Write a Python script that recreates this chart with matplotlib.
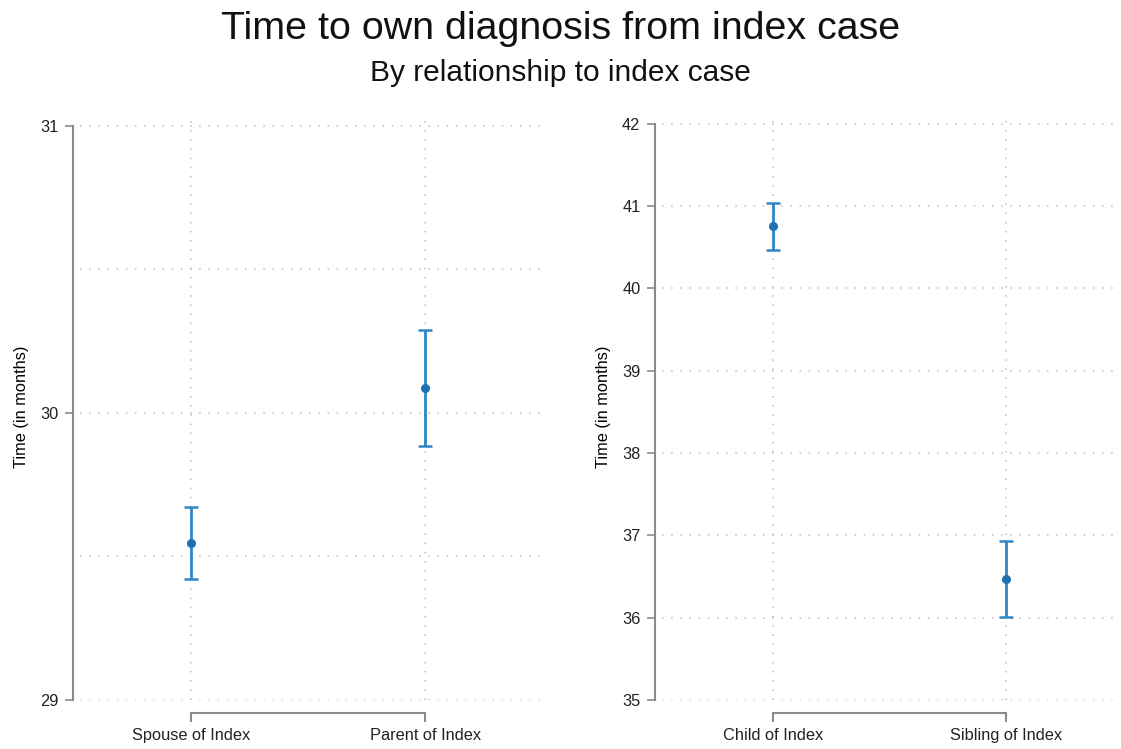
import matplotlib
matplotlib.use("Agg")
import matplotlib.pyplot as plt

plt.rcParams['font.family'] = ['Liberation Sans', 'DejaVu Sans']

# left panel: spouse / parent
left_labels = ['Spouse of Index', 'Parent of Index']
left_mean = [29.547, 30.087]
left_lo = [29.422, 29.885]
left_hi = [29.672, 30.289]

# right panel: child / sibling
right_labels = ['Child of Index', 'Sibling of Index']
right_mean = [40.752, 36.467]
right_lo = [40.467, 36.012]
right_hi = [41.04, 36.935]

line_col = '#2f86c6'
dot_col = '#1f70b2'
spine_col = '#8a8a8a'
grid_col = '#bdbdbd'

fig = plt.figure(figsize=(11.21, 7.49), dpi=100)
ax1 = fig.add_axes([0.0714, 0.0654, 0.4103, 0.7837])
ax2 = fig.add_axes([0.5905, 0.0654, 0.4086, 0.7837])


def panel(ax, labels, mean, lo, hi, ylim, major, minor):
    x = list(range(len(labels)))
    err = [[m - l for m, l in zip(mean, lo)], [h - m for m, h in zip(mean, hi)]]
    ax.errorbar(x, mean, yerr=err, fmt='none', ecolor=line_col, elinewidth=2,
                capsize=5, capthick=1.8, zorder=3)
    ax.plot(x, mean, 'o', color=dot_col, markersize=5.5, zorder=4)
    ax.set_xlim(-0.475, 1.49)
    ax.set_ylim(*ylim)
    ax.set_xticks(x)
    ax.set_xticklabels(labels)
    ax.set_yticks(major)
    ax.set_yticklabels([str(v) for v in major])
    # gridlines at majors and minors (unlabelled)
    for v in list(major) + list(minor):
        ax.axhline(v, color=grid_col, lw=1.1, ls=(0, (1, 5)), zorder=1)
    for xi in x:
        ax.axvline(xi, color=grid_col, lw=1.1, ls=(0, (1, 5)), zorder=1)
    for s in ['top', 'right']:
        ax.spines[s].set_visible(False)
    ax.spines['left'].set_position(('outward', 5))
    ax.spines['left'].set_bounds(major[0], major[-1])
    ax.spines['bottom'].set_position(('outward', 9.5))
    ax.spines['bottom'].set_bounds(x[0], x[-1])
    for s in ['left', 'bottom']:
        ax.spines[s].set_color(spine_col)
        ax.spines[s].set_linewidth(1.5)
    ax.tick_params(axis='y', length=6, width=1.2, color=spine_col, pad=4.5,
                   labelcolor='#222222', labelsize=11.8)
    ax.tick_params(axis='x', length=6.5, width=1.5, color=spine_col, pad=4.5,
                   labelcolor='#222222', labelsize=11.8)
    ax.set_ylabel('Time (in months)', fontsize=11.8, labelpad=8)
    ax.patch.set_alpha(0)


panel(ax1, left_labels, left_mean, left_lo, left_hi, (29, 31.045),
      [29, 30, 31], [29.5, 30.5])
panel(ax2, right_labels, right_mean, right_lo, right_hi, (35, 42.13),
      [35, 36, 37, 38, 39, 40, 41, 42], [])

fig.text(0.5, 0.961, 'Time to own diagnosis from index case', ha='center', va='center',
         fontsize=28.4, color='#111111')
fig.text(0.5, 0.902, 'By relationship to index case', ha='center', va='center',
         fontsize=21.5, color='#111111')

fig.savefig('out.png', dpi=100)
